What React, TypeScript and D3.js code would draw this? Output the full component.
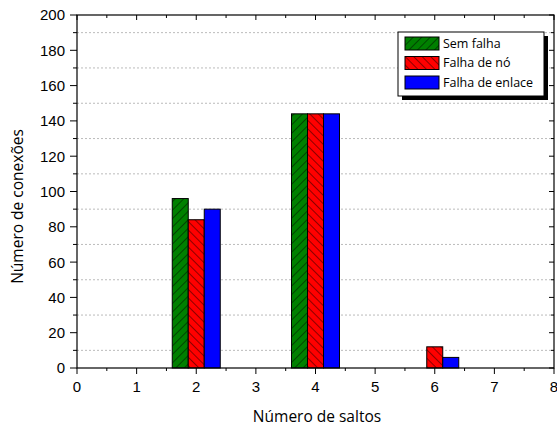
import React from "react";
import * as d3 from "d3";

const categories = [2, 4, 6];
const seriesNames = ["Sem falha", "Falha de nó", "Falha de enlace"];
const semFalha = [96, 144, 0];
const falhaNo = [84, 144, 12];
const falhaEnlace = [90, 144, 6];
const xTicks = [0, 1, 2, 3, 4, 5, 6, 7, 8];
const yTicks = [0, 20, 40, 60, 80, 100, 120, 140, 160, 180, 200];
const yMinor = [10, 30, 50, 70, 90, 110, 130, 150, 170, 190];
const xMinor = [0.5, 1.5, 2.5, 3.5, 4.5, 5.5, 6.5, 7.5];

const colors = ["#008000", "#ff0000", "#0000ff"];
const patterns = ["url(#hatchF)", "url(#hatchB)", null];

export default function App() {
  const W = 557, H = 432;
  const L = 77, R = 554, T = 15, B = 368;
  const x = d3.scaleLinear().domain([0, 8]).range([L, R]);
  const y = d3.scaleLinear().domain([0, 200]).range([B, T]);
  const series = [semFalha, falhaNo, falhaEnlace];
  const groupW = 0.805;
  const bw = groupW / 3;
  const font = "'Liberation Sans', Arial, sans-serif";
  const font2 = "'Open Sans', 'Liberation Sans', sans-serif";

  const legX = 398, legY = 32, legW = 146, legH = 64;

  return (
    <svg width={W} height={H} style={{ position: "absolute", left: 0, top: 0 }}>
      <defs>
        <pattern id="hatchF" patternUnits="userSpaceOnUse" width="6" height="6" patternTransform="rotate(45)">
          <line x1="0" y1="0" x2="0" y2="6" stroke="#000" strokeWidth="0.9" />
        </pattern>
        <pattern id="hatchB" patternUnits="userSpaceOnUse" width="6" height="6" patternTransform="rotate(-45)">
          <line x1="0" y1="0" x2="0" y2="6" stroke="#000" strokeWidth="0.9" />
        </pattern>
      </defs>
      <rect width={W} height={H} fill="#fff" />
      {/* grid */}
      {yMinor.map((v) => (
        <line key={"g" + v} x1={L} x2={R} y1={y(v)} y2={y(v)} stroke="#bbb" strokeWidth={1} strokeDasharray="2,2" />
      ))}
      {/* bars */}
      {categories.map((c, ci) =>
        series.map((s, si) => {
          const v = s[ci];
          if (v <= 0) return null;
          const x0 = x(c - groupW / 2 + si * bw);
          const x1 = x(c - groupW / 2 + (si + 1) * bw);
          const pat = patterns[si];
          return (
            <g key={`b${ci}-${si}`}>
              <rect x={x0} y={y(v)} width={x1 - x0} height={y(0) - y(v)} fill={colors[si]} />
              {pat && <rect x={x0} y={y(v)} width={x1 - x0} height={y(0) - y(v)} fill={pat} />}
              <rect x={x0} y={y(v)} width={x1 - x0} height={y(0) - y(v)} fill="none" stroke="#000" strokeWidth={1} />
            </g>
          );
        })
      )}
      {/* frame */}
      <rect x={L} y={T} width={R - L} height={B - T} fill="none" stroke="#000" strokeWidth={1.2} />
      {/* y ticks */}
      {yTicks.map((v) => (
        <g key={"yt" + v}>
          <line x1={L - 7} x2={L} y1={y(v)} y2={y(v)} stroke="#000" />
          <line x1={R} x2={R - 5} y1={y(v)} y2={y(v)} stroke="#000" />
          <text x={L - 12} y={y(v)} dy="0.36em" textAnchor="end" fontFamily={font} fontSize={15}>{v}</text>
        </g>
      ))}
      {yMinor.map((v) => (
        <g key={"ym" + v}>
          <line x1={L - 4} x2={L} y1={y(v)} y2={y(v)} stroke="#000" />
          <line x1={R} x2={R - 3} y1={y(v)} y2={y(v)} stroke="#000" />
        </g>
      ))}
      {/* x ticks */}
      {xTicks.map((v) => (
        <g key={"xt" + v}>
          <line x1={x(v)} x2={x(v)} y1={B} y2={B + 6} stroke="#000" />
          <line x1={x(v)} x2={x(v)} y1={T} y2={T + 5} stroke="#000" />
          <text x={x(v)} y={B + 24} textAnchor="middle" fontFamily={font} fontSize={15}>{v}</text>
        </g>
      ))}
      {xMinor.map((v) => (
        <g key={"xm" + v}>
          <line x1={x(v)} x2={x(v)} y1={B} y2={B + 3} stroke="#000" />
          <line x1={x(v)} x2={x(v)} y1={T} y2={T + 3} stroke="#000" />
        </g>
      ))}
      {/* axis titles */}
      <text x={317} y={422} textAnchor="middle" fontFamily={font2} fontSize={15.5}>Número de saltos</text>
      <text transform={`translate(23,${(T + B) / 2 + 15}) rotate(-90)`} textAnchor="middle" fontFamily={font2} fontSize={15.5}>Número de conexões</text>
      {/* legend */}
      <rect x={legX + 4} y={legY + 4} width={legW} height={legH} fill="#000" />
      <rect x={legX} y={legY} width={legW} height={legH} fill="#fff" stroke="#000" strokeWidth={1} />
      {seriesNames.map((n, i) => {
        const ry = legY + 5 + i * 19.5;
        return (
          <g key={"l" + i}>
            <rect x={legX + 7} y={ry} width={34} height={13} fill={colors[i]} />
            {patterns[i] && <rect x={legX + 7} y={ry} width={34} height={13} fill={patterns[i]!} />}
            <rect x={legX + 7} y={ry} width={34} height={13} fill="none" stroke="#000" />
            <text x={legX + 45} y={ry + 6.5} dy="0.35em" fontFamily={font2} fontSize={12.5}>{n}</text>
          </g>
        );
      })}
    </svg>
  );
}
